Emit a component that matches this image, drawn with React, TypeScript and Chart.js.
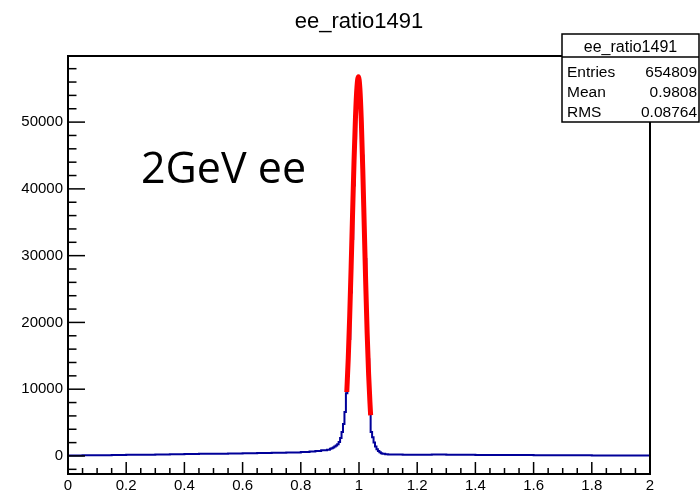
import React, { useEffect, useRef } from 'react';
import { Chart, registerables } from 'chart.js';

Chart.register(...registerables);

// Histogram bins (left edge of each bin) and bin contents
const binEdges = [
  0.0, 0.05, 0.1, 0.15, 0.2, 0.25, 0.3, 0.35, 0.4, 0.45, 0.5, 0.55, 0.6, 0.65, 0.7, 0.75,
  0.8, 0.83, 0.85, 0.87, 0.89, 0.9, 0.905, 0.91, 0.915, 0.92, 0.925, 0.93, 0.935, 0.94,
  0.945, 0.95, 0.955, 0.96, 0.965, 0.97, 0.975, 0.98, 0.985, 0.99, 0.995, 1.0, 1.005,
  1.01, 1.015, 1.02, 1.025, 1.03, 1.035, 1.04, 1.045, 1.05, 1.055, 1.06, 1.065, 1.07,
  1.075, 1.08, 1.09, 1.1, 1.15, 1.2, 1.25, 1.3, 1.35, 1.4, 1.5, 1.6, 1.7, 1.8, 1.9, 2.0,
];
const binCounts = [
  80, 100, 120, 140, 170, 200, 230, 260, 290, 320, 350, 380, 410, 440, 480, 530,
  600, 680, 760, 850, 950, 1100, 1150, 1250, 1400, 1550, 1750, 2100, 2700, 3600,
  4800, 6600, 9400, 12000, 17500, 24500, 32500, 40500, 47500, 53000, 56500, 55500, 51500,
  45000, 37500, 29500, 21500, 14500, 6500, 3600, 2800, 2000, 1400, 1000, 750, 550,
  420, 330, 260, 220, 200, 190, 210, 200, 170, 150, 130, 110, 95, 85, 75, 75,
];

// Fit curve (red)
const fitX = [
  0.958, 0.963, 0.968, 0.973, 0.978, 0.983, 0.988, 0.993, 0.998,
  1.003, 1.008, 1.013, 1.018, 1.023, 1.028, 1.033, 1.038, 1.04,
];
const fitY = [
  9580, 14530, 20870, 28340, 36400, 44230, 50820, 55240, 56800,
  55050, 50130, 42870, 34450, 26000, 18440, 12290, 7690, 6100,
];

const xTickValues = [0, 0.2, 0.4, 0.6, 0.8, 1, 1.2, 1.4, 1.6, 1.8, 2];
const yTickValues = [0, 10000, 20000, 30000, 40000, 50000];

const titleText = 'ee_ratio1491';
const statsLabels = ['Entries', 'Mean', 'RMS'];
const statsValues = ['654809', '0.9808', '0.08764'];
const annotationText = '2GeV ee';

const FONT = '"Liberation Sans", Arial, Helvetica, sans-serif';

export default function App() {
  const ref = useRef<HTMLCanvasElement>(null);

  useEffect(() => {
    document.body.style.margin = '0';
    const canvas = ref.current;
    if (!canvas) return;

    const rootPlugin = {
      id: 'rootDecor',
      afterDatasetsDraw(chart: any) {
        const { ctx, chartArea } = chart;
        const { left, right, top, bottom } = chartArea;
        const xs = chart.scales.x;
        const ys = chart.scales.y;
        ctx.save();
        ctx.strokeStyle = '#000';
        ctx.lineWidth = 2;
        ctx.strokeRect(left, top, right - left, bottom - top);

        ctx.lineWidth = 1.5;
        // y ticks (inside)
        for (let v = -2000; v <= 58000; v += 2000) {
          const y = ys.getPixelForValue(v);
          if (y < top || y > bottom) continue;
          const len = v % 10000 === 0 ? 17 : 8.5;
          ctx.beginPath();
          ctx.moveTo(left, y);
          ctx.lineTo(left + len, y);
          ctx.stroke();
        }
        // x ticks (inside)
        for (let i = 0; i <= 40; i++) {
          const x = xs.getPixelForValue(i * 0.05);
          const len = i % 4 === 0 ? 12 : 6;
          ctx.beginPath();
          ctx.moveTo(x, bottom);
          ctx.lineTo(x, bottom - len);
          ctx.stroke();
        }

        // Title
        ctx.fillStyle = '#000';
        ctx.font = `22px ${FONT}`;
        ctx.textAlign = 'center';
        ctx.textBaseline = 'alphabetic';
        ctx.fillText(titleText, 359, 28);

        // Annotation
        ctx.font = '43px "Open Sans", sans-serif';
        ctx.textAlign = 'left';
        ctx.fillText(annotationText, 141, 183);

        // Stats box
        const bx = 562, by = 34, bw = 137, bh = 88;
        ctx.fillStyle = '#fff';
        ctx.fillRect(bx, by, bw, bh);
        ctx.strokeStyle = '#000';
        ctx.lineWidth = 1.5;
        ctx.strokeRect(bx, by, bw, bh);
        ctx.beginPath();
        ctx.moveTo(bx, 57);
        ctx.lineTo(bx + bw, 57);
        ctx.stroke();
        ctx.fillStyle = '#000';
        ctx.font = `16px ${FONT}`;
        ctx.textAlign = 'center';
        ctx.fillText(titleText, bx + bw / 2, 52);
        ctx.font = `15.5px ${FONT}`;
        statsLabels.forEach((lab, i) => {
          const yy = 77 + i * 20;
          ctx.textAlign = 'left';
          ctx.fillText(lab, bx + 5, yy);
          ctx.textAlign = 'right';
          ctx.fillText(statsValues[i], bx + bw - 2, yy);
        });
        ctx.restore();
      },
    };

    const chart = new Chart(canvas, {
      type: 'line',
      data: {
        datasets: [
          {
            data: binEdges.map((x, i) => ({ x, y: binCounts[i] })),
            borderColor: '#000099',
            borderWidth: 2,
            stepped: true,
            pointRadius: 0,
            fill: false,
            order: 2,
          },
          {
            data: fitX.map((x, i) => ({ x, y: fitY[i] })),
            borderColor: '#ff0000',
            borderWidth: 5,
            tension: 0.4,
            cubicInterpolationMode: 'monotone',
            pointRadius: 0,
            fill: false,
            order: 1,
          },
        ],
      },
      options: {
        responsive: false,
        animation: false,
        events: [],
        layout: { padding: { top: 56, right: 50, left: 0, bottom: 0 } },
        plugins: {
          legend: { display: false },
          tooltip: { enabled: false },
          title: { display: false },
        },
        scales: {
          x: {
            type: 'linear',
            min: 0,
            max: 2,
            grid: { display: false, drawTicks: false },
            border: { display: false },
            afterBuildTicks: (s: any) => {
              s.ticks = xTickValues.map((v) => ({ value: v }));
            },
            afterFit: (s: any) => {
              s.height = 20;
            },
            ticks: {
              font: { family: FONT, size: 15 },
              color: '#000',
              padding: 3,
              maxRotation: 0,
              autoSkip: false,
              callback: (v: any) => String(Math.round(Number(v) * 10) / 10),
            },
          },
          y: {
            type: 'linear',
            min: -2700,
            max: 59900,
            grid: { display: false, drawTicks: false },
            border: { display: false },
            afterBuildTicks: (s: any) => {
              s.ticks = yTickValues.map((v) => ({ value: v }));
            },
            afterFit: (s: any) => {
              s.width = 68;
            },
            ticks: {
              font: { family: FONT, size: 15 },
              color: '#000',
              padding: 5,
              callback: (v: any) => String(v),
            },
          },
        },
      },
      plugins: [rootPlugin],
    });

    return () => chart.destroy();
  }, []);

  return <canvas ref={ref} width={700} height={494} style={{ display: 'block' }} />;
}
